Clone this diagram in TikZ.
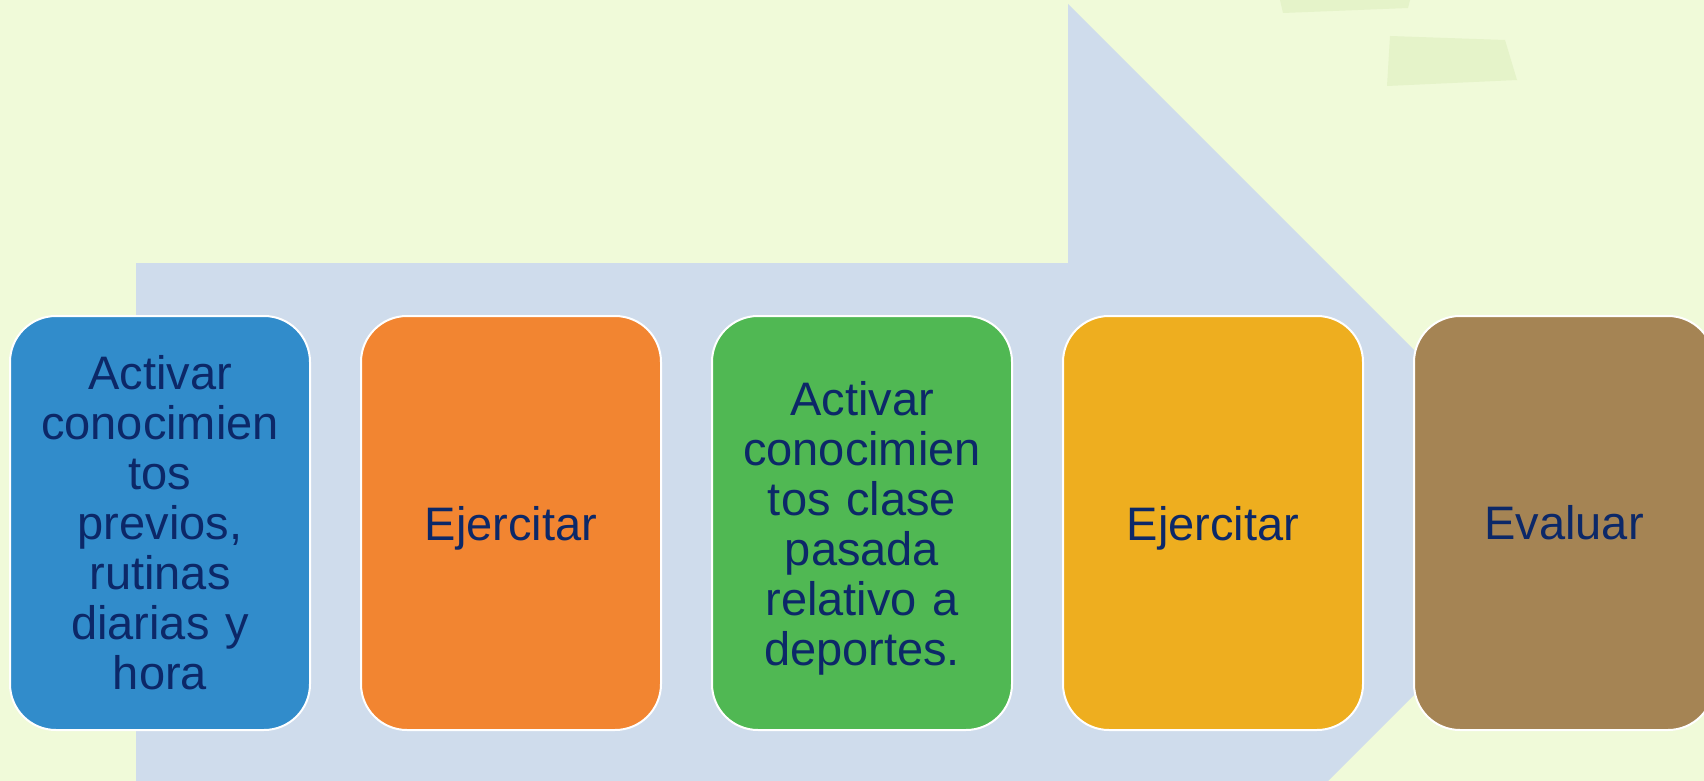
\documentclass[tikz,border=0pt]{standalone}
\usepackage{fontspec}
\setmainfont{Liberation Sans}
\usetikzlibrary{positioning}
\definecolor{bgcol}{HTML}{F0FAD9}
\definecolor{blobcol}{HTML}{E5F3C9}
\definecolor{arrowcol}{HTML}{CFDCEC}
\definecolor{txtcol}{HTML}{0C2868}
\definecolor{c1}{HTML}{318CCB}
\definecolor{c2}{HTML}{F28531}
\definecolor{c3}{HTML}{50B853}
\definecolor{c4}{HTML}{EEAE1F}
\definecolor{c5}{HTML}{A58454}
\newcommand{\nodepth}[1]{\raisebox{0pt}[\height][0pt]{#1}}
\begin{document}
\begin{tikzpicture}[x=1pt, y=-1pt, node distance={49pt},
  main/.style = {draw=white, line width=2pt, rounded corners=46pt, minimum width=300pt, minimum height=414pt, inner sep=0pt, text width=290pt, align=center, text=txtcol, font=\fontsize{47}{50}\selectfont}]
\useasboundingbox (0,0) rectangle (1704,781);
\clip (0,0) rectangle (1704,781);
\fill[bgcol] (0,0) rectangle (1704,781);
\fill[blobcol] (1280,0) -- (1410,0) -- (1408,8) -- (1283,13) -- cycle;
\fill[blobcol] (1390,36) -- (1505,40) -- (1517,80) -- (1387,86) -- cycle;
\fill[arrowcol] (136,782) -- (136,263) -- (1068,263) -- (1068,4) -- (1586.5,522.5) -- (1068,1041) -- (1068,782) -- cycle;

\node[main, fill=c1] (1) at (160,523) {Activar\\conocimien\\tos\\previos,\\rutinas\\diarias y\\hora};
\node[main, fill=c2] (2) [right=of 1] {\nodepth{Ejercitar}};
\node[main, fill=c3] (3) [right=of 2] {Activar\\conocimien\\tos clase\\pasada\\relativo a\\\nodepth{deportes.}};
\node[main, fill=c4] (4) [right=of 3] {\nodepth{Ejercitar}};
\node[main, fill=c5] (5) [right=of 4] {Evaluar};
\end{tikzpicture}
\end{document}
